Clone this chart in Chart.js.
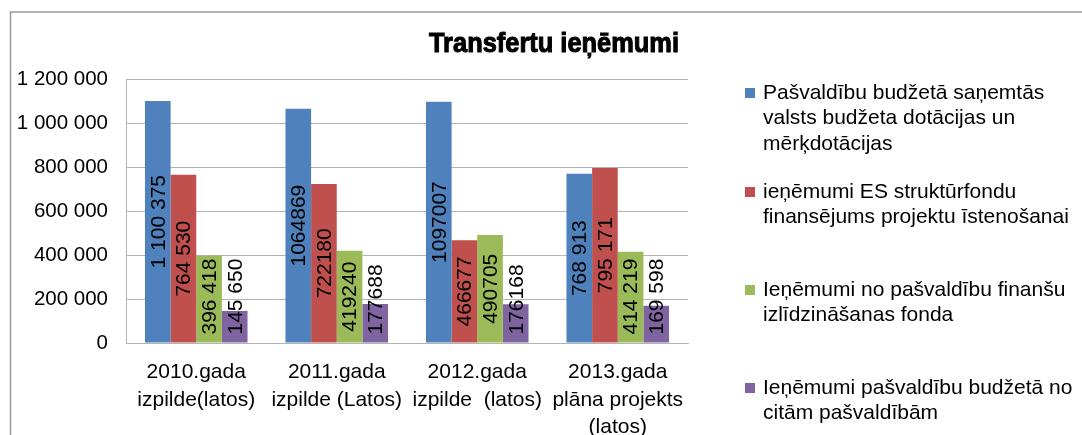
<!DOCTYPE html>
<html><head><meta charset="utf-8">
<script src="https://cdn.jsdelivr.net/npm/chart.js@4.4.1/dist/chart.umd.min.js"></script>
<style>html,body{margin:0;padding:0;background:#fff;overflow:hidden}#wrap{width:1082px;height:435px;position:relative}</style>
</head><body><div id="wrap"><canvas id="c" width="1082" height="435"></canvas></div>
<script>
const chartTitle = "Transfertu ieņēmumi";
const categories = [["2010.gada","izpilde(latos)"],["2011.gada","izpilde (Latos)"],["2012.gada","izpilde  (latos)"],["2013.gada","plāna projekts","(latos)"]];
const seriesNames = [
  ["Pašvaldību budžetā saņemtās","valsts budžeta dotācijas un","mērķdotācijas"],
  ["ieņēmumi ES struktūrfondu","finansējums projektu īstenošanai"],
  ["Ieņēmumi no pašvaldību finanšu","izlīdzināšanas fonda"],
  ["Ieņēmumi pašvaldību budžetā no","citām pašvaldībām"]
];
const dotacijas = [1100375, 1064869, 1097007, 768913];
const esFondi = [764530, 722180, 466677, 795171];
const izlidzinasana = [396418, 419240, 490705, 414219];
const citasPasvaldibas = [145650, 177688, 176168, 169598];
const dotacijasLabels = ["1 100 375","1064869","1097007","768 913"];
const esFondiLabels = ["764 530","722180","466677","795 171"];
const izlidzinasanaLabels = ["396 418","419240","490705","414 219"];
const citasLabels = ["145 650","177688","176168","169 598"];
const yMin = 0, yMax = 1200000, yStep = 200000;
const colors = ["#4F81BD","#C0504D","#9BBB59","#8064A2"];

const FONT = "'Liberation Sans', Arial, sans-serif";

const framePlugin = {
  id: 'frame',
  beforeDraw(chart) {
    const ctx = chart.ctx;
    ctx.save();
    ctx.fillStyle = '#fff';
    ctx.fillRect(0,0,chart.width,chart.height);
    ctx.strokeStyle = '#999999';
    ctx.lineWidth = 1.5;
    ctx.strokeRect(10.5, 12, 1300, 800);
    ctx.restore();
  },
  afterDraw(chart) {
    const ctx = chart.ctx;
    ctx.save();
    // title
    ctx.font = "bold 27px " + FONT;
    ctx.fillStyle = '#000';
    ctx.textAlign = 'center';
    ctx.textBaseline = 'middle';
    const w = ctx.measureText(chartTitle).width;
    const sx = 250 / w;
    ctx.translate(554, 45);
    ctx.scale(sx, 1);
    ctx.lineWidth = 1;
    ctx.strokeStyle = '#000';
    ctx.strokeText(chartTitle, 0, 0);
    ctx.fillText(chartTitle, 0, 0);
    ctx.restore();
    // legend
    ctx.save();
    ctx.font = "21px " + FONT;
    ctx.textAlign = 'left';
    ctx.textBaseline = 'middle';
    const itemY = [93, 192, 290, 388];
    chart.data.datasets.forEach((ds, i) => {
      ctx.fillStyle = ds.backgroundColor;
      ctx.fillRect(745, itemY[i] - 5, 10, 10);
      ctx.fillStyle = '#000';
      seriesNames[i].forEach((line, j) => {
        ctx.fillText(line, 763, itemY[i] + j * 25.5);
      });
    });
    ctx.restore();
  },
  afterDatasetsDraw(chart) {
    const ctx = chart.ctx;
    ctx.save();
    ctx.font = "21px " + FONT;
    ctx.fillStyle = '#000';
    ctx.textAlign = 'center';
    ctx.textBaseline = 'middle';
    chart.data.datasets.forEach((ds, i) => {
      const meta = chart.getDatasetMeta(i);
      meta.data.forEach((bar, j) => {
        const txt = ds.valueLabels[j];
        const len = ctx.measureText(txt).width;
        let cy = (bar.y + bar.base) / 2;
        if (cy + len / 2 > bar.base - 8) cy = bar.base - 8 - len / 2;
        ctx.save();
        ctx.translate(bar.x, cy);
        ctx.rotate(-Math.PI / 2);
        ctx.fillText(txt, 0, 1);
        ctx.restore();
      });
    });
    ctx.restore();
  }
};

const allLabels = [dotacijasLabels, esFondiLabels, izlidzinasanaLabels, citasLabels];
const allData = [dotacijas, esFondi, izlidzinasana, citasPasvaldibas];

new Chart(document.getElementById('c'), {
  type: 'bar',
  data: {
    labels: categories,
    datasets: allData.map((d, i) => ({
      label: seriesNames[i].join(' '),
      data: d,
      valueLabels: allLabels[i],
      backgroundColor: colors[i],
      borderWidth: 0,
      categoryPercentage: 0.73,
      barPercentage: 1.0
    }))
  },
  options: {
    responsive: false,
    animation: false,
    devicePixelRatio: 1,
    layout: { padding: { left: 0, top: 79, right: 394, bottom: 0 } },
    plugins: { legend: { display: false }, title: { display: false }, tooltip: { enabled: false } },
    scales: {
      x: {
        grid: { display: false, drawTicks: false },
        border: { display: true, color: '#b3b3b3', width: 1 },
        ticks: { color: '#000', font: { family: FONT, size: 21, lineHeight: 1.3 }, padding: 16, maxRotation: 0, autoSkip: false },
        afterFit(scale) { scale.height = 92; }
      },
      y: {
        min: yMin, max: yMax,
        grid: { color: '#b3b3b3', drawTicks: false, lineWidth: 1 },
        border: { display: true, color: '#b3b3b3', width: 1 },
        ticks: {
          stepSize: yStep, color: '#000', padding: 18,
          font: { family: FONT, size: 20.5 },
          callback: v => String(v).replace(/\B(?=(\d{3})+(?!\d))/g, ' ')
        },
        afterFit(scale) { scale.width = 126; }
      }
    }
  },
  plugins: [framePlugin]
});
</script></body></html>
